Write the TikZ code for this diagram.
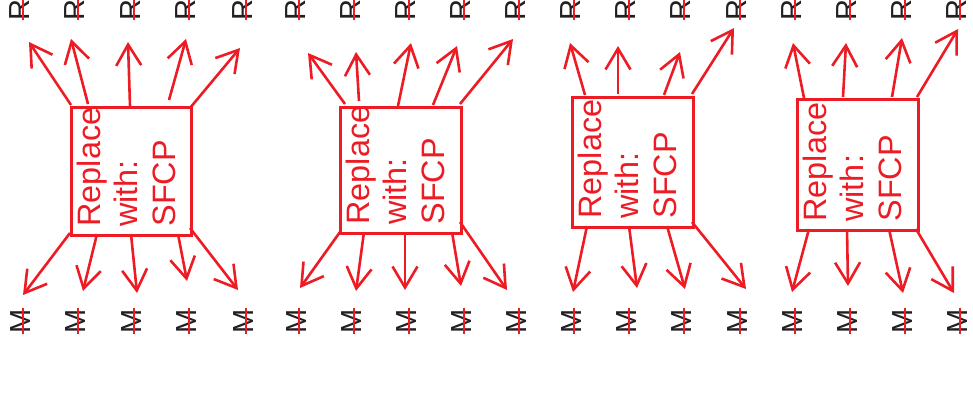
\documentclass[tikz,border=0pt]{standalone}
\usepackage{fontspec}
\setmainfont{Liberation Sans}
\usetikzlibrary{arrows.meta}
\definecolor{sred}{RGB}{237,28,36}
\definecolor{sdark}{RGB}{35,31,32}
\begin{document}
\begin{tikzpicture}[x=0.5pt,y=-0.5pt,
  boxstyle/.style={draw=sred,line width=1.3pt,rectangle,inner sep=0pt,anchor=north west},
  boxtext/.style={rotate=90,anchor=north west,inner sep=0pt,align=left,text=sred,font=\fontsize{16.2}{18.8}\selectfont},
  lbl/.style={rotate=90,inner sep=0pt,text=sdark,font=\fontsize{14.5}{14.5}\selectfont},
  tickline/.style={draw=sred,line width=1pt},
  conn/.style={draw=sred,line width=1.3pt,-{Straight Barb[length=10.5pt,width=12.5pt]}}]
\useasboundingbox (0,0) rectangle (973,392);

% boxes
\foreach \b/\l/\t/\r/\bt in {1/70/106/190/234, 2/339/106/460/232, 3/571/96/692/226, 4/796/98/917/229}{
  \node[boxstyle, minimum width={(\r-\l)*0.5pt}, minimum height={(\bt-\t)*0.5pt}] (box\b) at (\l,\t) {};
  \node[boxtext] (txt\b) at (\l+6.5,\bt-7) {Replace\\with:\\SFCP};
}

% labels
\foreach \n/\x in {a/23,b/78,c/134,d/189,e/246,f/299,g/354,h/409,i/464,j/519,k/574,l/629,m/684,n/740,o/795,p/850,q/905,r/960}{
  \node[lbl] (R\n) at (\x-3,10) {R};
  \coordinate (Rt\n) at (\x,0);
  \coordinate (Rb\n) at (\x,20);
  \draw[tickline] (Rt\n) -- (Rb\n);
  \node[lbl] (M\n) at (\x-2,321) {M};
  \coordinate (Mt\n) at (\x,308);
  \coordinate (Mb\n) at (\x,334);
  \draw[tickline] (Mt\n) -- (Mb\n);
}

% connectors
\foreach \i/\sx/\sy/\tx/\ty in {
  1/71/105/29/42, 2/88/104/71/39, 3/130/106/128/42, 4/169/100/186/39, 5/190/108/240/48,
  6/70/233/23/295, 7/97/234/83/291, 8/131/234/137/293, 9/178/234/187/281, 10/190/228/238/290,
  11/345/104/308/53, 12/359/101/356/52, 13/398/106/411/43, 14/433/105/457/46, 15/460/104/513/39,
  16/340/232/300/288, 17/364/232/356/291, 18/405/232/405/290, 19/452/232/461/286, 20/460/222/507/290,
  21/585/95/570/43, 22/618/94/618/46, 23/664/95/680/52, 24/692/94/734/28,
  25/587/226/573/292, 26/629/226/637/288, 27/667/226/685/289, 28/692/222/746/289,
  29/804/98/793/43, 30/843/97/846/43, 31/892/97/902/38, 32/917/97/958/29,
  33/809/229/792/292, 34/847/229/848/286, 35/889/229/903/293, 36/916/229/954/293}{
  \coordinate (s\i) at (\sx,\sy);
  \coordinate (t\i) at (\tx,\ty);
  \draw[conn] (s\i) -- (t\i);
}
\end{tikzpicture}
\end{document}
